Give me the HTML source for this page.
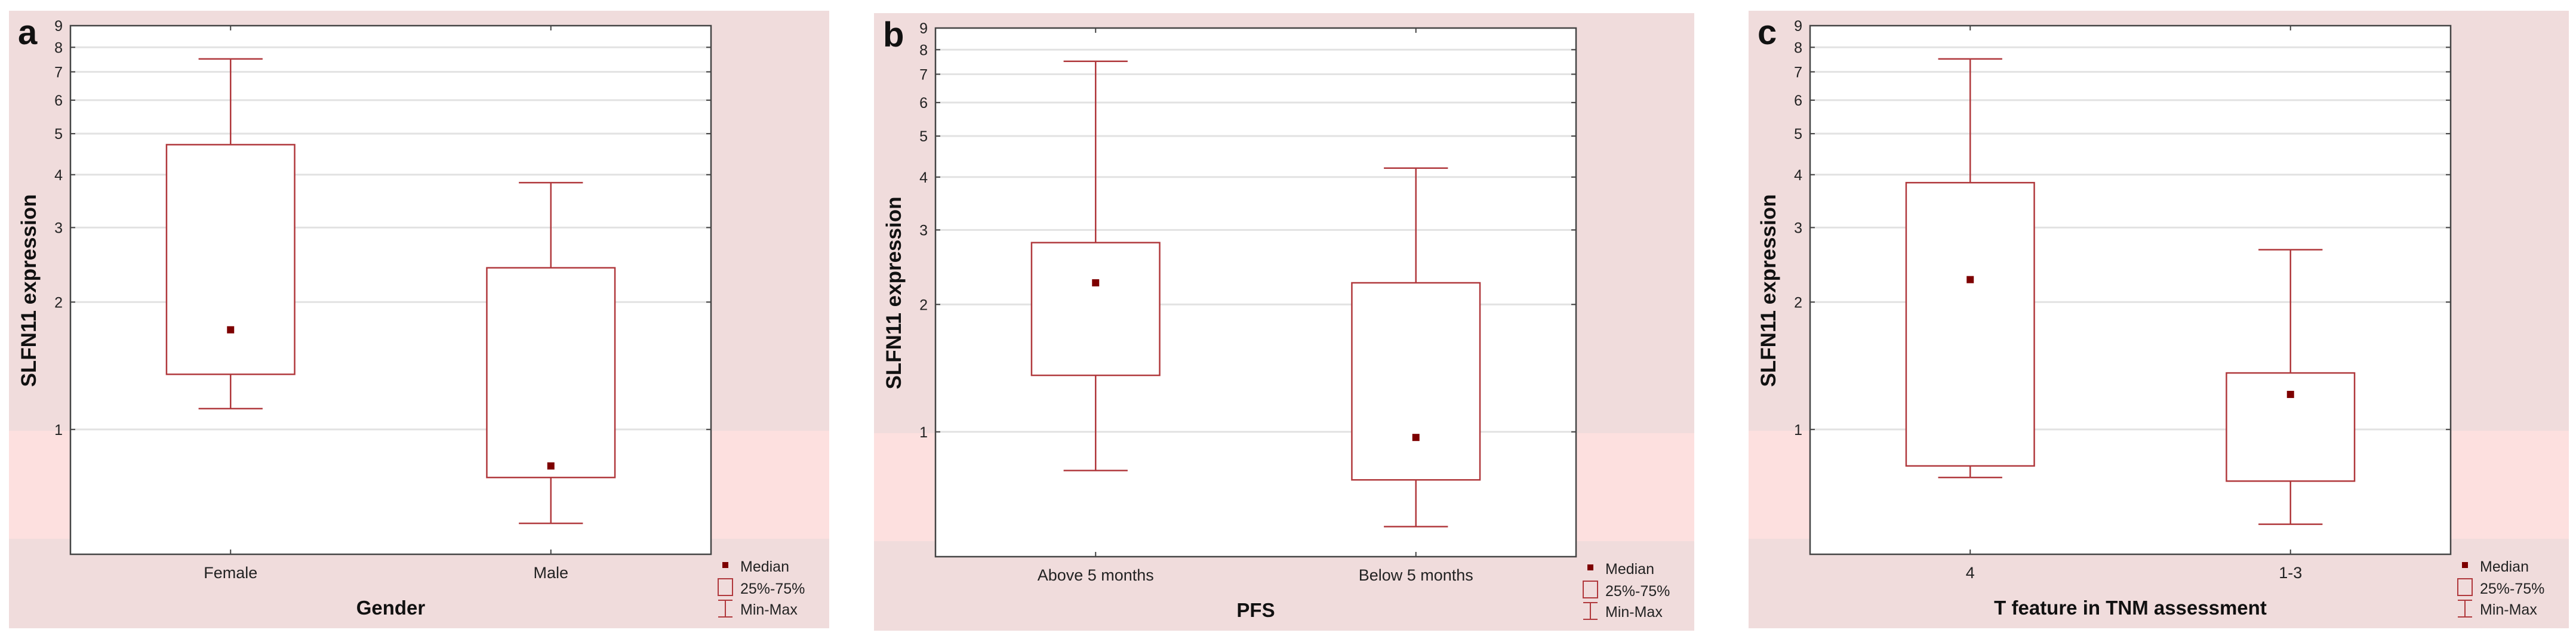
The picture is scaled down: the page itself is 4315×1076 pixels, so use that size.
<!DOCTYPE html>
<html><head><meta charset="utf-8">
<style>
html,body{margin:0;padding:0;background:#fff;}
svg{display:block;font-family:"Liberation Sans",Arial,sans-serif;}
</style></head>
<body>
<svg id="chart" width="4315" height="1076" viewBox="0 0 4315 1076" xmlns="http://www.w3.org/2000/svg"></svg>
<script>
const panelLetters = ["a","b","c"];
const axisTitles = ["Gender","PFS","T feature in TNM assessment"];
const categoriesA = ["Female","Male"];
const categoriesB = ["Above 5 months","Below 5 months"];
const categoriesC = ["4","1-3"];
// [min, q1, median, q3, max]
const statsA = [[1.12,1.35,1.72,4.71,7.51],[0.60,0.77,0.82,2.41,3.83]];
const statsB = [[0.81,1.36,2.25,2.80,7.51],[0.597,0.77,0.97,2.25,4.20]];
const statsC = [[0.77,0.82,2.26,3.83,7.51],[0.597,0.755,1.21,1.36,2.66]];
const yTicks = [1,2,3,4,5,6,7,8,9];
const yTickLabels = ["1","2","3","4","5","6","7","8","9"];
const yMin = 0.507, yMax = 9;

const NS = "http://www.w3.org/2000/svg";
const svg = document.getElementById("chart");
function mk(tag, attrs, parent){
  const e = document.createElementNS(NS, tag);
  for (const k in attrs) e.setAttribute(k, attrs[k]);
  (parent||svg).appendChild(e);
  return e;
}
const RED = "#b0383c", DARK = "#7d0000";
const panels = [
  {dx:0, dy:0, cats:categoriesA, stats:statsA},
  {dx:1449, dy:4, cats:categoriesB, stats:statsB},
  {dx:2914, dy:0, cats:categoriesC, stats:statsC}
];
panels.forEach((p, pi) => {
  const g = mk("g", {});
  
  
  const L = 118 + p.dx, R = 1191 + p.dx, T = 43 + p.dy, B = 929 + p.dy;
  const yS = v => T + (Math.log10(yMax) - Math.log10(v)) / (Math.log10(yMax) - Math.log10(yMin)) * (B - T);
  const xS = i => L + (R - L) * (0.25 + 0.5 * i);
  const bg = mk("rect", {x:15+p.dx, y:18+p.dy, width:1374, height:1035, fill:"#f0dcdc"}, g);
  
  
  const band = mk("rect", {x:15+p.dx, y:722+p.dy, width:1374, height:181, fill:"#fde0df"}, g);
  
  
  const plot = mk("rect", {x:L, y:T, width:R-L, height:B-T, fill:"#fff"}, g);
  
  
  yTicks.forEach((v, k) => {
    const y = yS(v);
    if (v < 9) {
      const gl = mk("line", {x1:L, x2:R, y1:y, y2:y, stroke:"#e2e2e2", "stroke-width":3}, g);
      
      
    }
    mk("line", {x1:L, x2:L+8, y1:y, y2:y, stroke:"#444", "stroke-width":2}, g);
    mk("line", {x1:R-8, x2:R, y1:y, y2:y, stroke:"#444", "stroke-width":2}, g);
    const t = mk("text", {x:L-13, y:y+9, "text-anchor":"end", "font-size":25, fill:"#222"}, g);
    t.textContent = yTickLabels[k];
    
    
  });
  const fr = mk("rect", {x:L, y:T, width:R-L, height:B-T, fill:"none", stroke:"#444", "stroke-width":2.5}, g);
  
  
  const bw = (R-L)*0.2, cw = (R-L)*0.1;
  p.cats.forEach((c, i) => {
    const s = p.stats[i], x = xS(i);
    mk("line", {x1:x, x2:x, y1:B, y2:B-8, stroke:"#444", "stroke-width":2}, g);
    mk("line", {x1:x, x2:x, y1:T, y2:T+8, stroke:"#444", "stroke-width":2}, g);
    const bg2 = mk("g", {}, g);
    
    
    mk("line", {x1:x, x2:x, y1:yS(s[0]), y2:yS(s[1]), stroke:RED, "stroke-width":2.5}, bg2);
    mk("line", {x1:x, x2:x, y1:yS(s[3]), y2:yS(s[4]), stroke:RED, "stroke-width":2.5}, bg2);
    mk("line", {x1:x-cw/2, x2:x+cw/2, y1:yS(s[0]), y2:yS(s[0]), stroke:RED, "stroke-width":2.5}, bg2);
    mk("line", {x1:x-cw/2, x2:x+cw/2, y1:yS(s[4]), y2:yS(s[4]), stroke:RED, "stroke-width":2.5}, bg2);
    mk("rect", {x:x-bw/2, y:yS(s[3]), width:bw, height:yS(s[1])-yS(s[3]), fill:"#fff", stroke:RED, "stroke-width":2.5}, bg2);
    const m = mk("rect", {x:x-6, y:yS(s[2])-6, width:12, height:12, fill:DARK}, bg2);
    
    
    const cl = mk("text", {x:x, y:969+p.dy, "text-anchor":"middle", "font-size":27, fill:"#222"}, g);
    cl.textContent = c;
    
    
  });
  const xt = mk("text", {x:(L+R)/2, y:1030+p.dy, "text-anchor":"middle", "font-size":33, "font-weight":"bold", fill:"#111"}, g);
  xt.textContent = axisTitles[pi];
  
  
  const yt = mk("text", {x:0, y:0, "text-anchor":"middle", "font-size":35, "font-weight":"bold", fill:"#111", transform:`translate(${L-58},${487+p.dy}) rotate(-90)`}, g);
  yt.textContent = "SLFN11 expression";
  
  
  const lt = mk("text", {x:30+p.dx, y:74+p.dy, "font-size":58, "font-weight":"bold", fill:"#111"}, g);
  lt.textContent = panelLetters[pi];
  
  
  const lg = mk("g", {}, g);
  
  
  const lx = 1215 + p.dx, ly = p.dy;
  mk("rect", {x:lx-5, y:ly+942, width:10, height:10, fill:DARK}, lg);
  mk("rect", {x:lx-12, y:ly+970, width:24, height:28, fill:"none", stroke:RED, "stroke-width":2}, lg);
  mk("line", {x1:lx-12, x2:lx+12, y1:ly+1006, y2:ly+1006, stroke:RED, "stroke-width":2}, lg);
  mk("line", {x1:lx-12, x2:lx+12, y1:ly+1034, y2:ly+1034, stroke:RED, "stroke-width":2}, lg);
  mk("line", {x1:lx, x2:lx, y1:ly+1006, y2:ly+1034, stroke:RED, "stroke-width":2}, lg);
  [["Median",958],["25%-75%",995],["Min-Max",1030]].forEach(([t,y]) => {
    const e = mk("text", {x:lx+25, y:ly+y, "font-size":25, fill:"#222"}, lg);
    e.textContent = t;
    
    
  });
});
</script>
</body></html>
